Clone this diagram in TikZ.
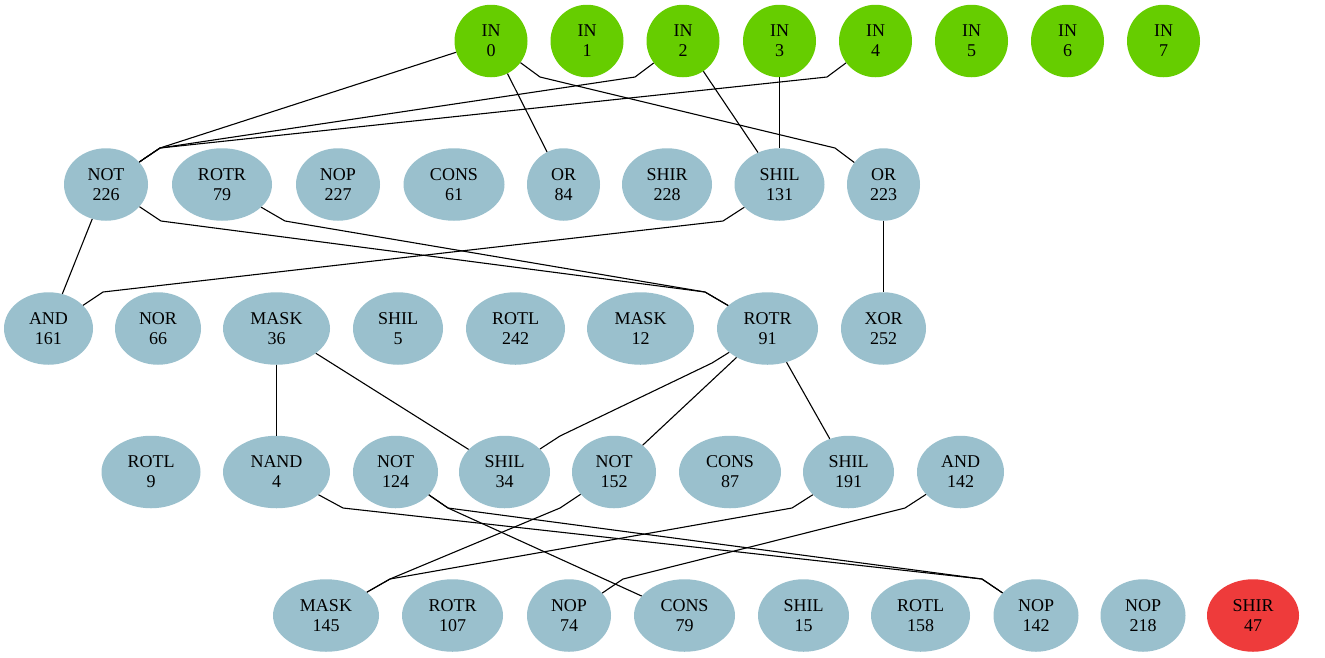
\documentclass[tikz,border=0pt]{standalone}
\usepackage{fontspec}
\setmainfont{Liberation Serif}
\usetikzlibrary{shapes.geometric}
\definecolor{infill}{HTML}{66CD00}
\definecolor{opfill}{HTML}{9AC0CD}
\definecolor{outfill}{HTML}{EE3B3B}
\tikzset{
  gate/.style={ellipse, draw=none, fill=opfill, minimum height=72.5pt,
    inner sep=0pt, align=center, font=\fontsize{18pt}{20pt}\selectfont},
  input/.style={gate, fill=infill, minimum width=73pt},
  output/.style={gate, fill=outfill},
  wire/.style={draw=black, line width=1.1pt, line join=round}
}
\begin{document}
\begin{tikzpicture}[x=1pt, y=-1pt]
\path[use as bounding box] (0,0) rectangle (1325,657);

% inputs
\node[input] (in0) at (491,41) {IN\\0};
\node[input] (in1) at (587,41) {IN\\1};
\node[input] (in2) at (683,41) {IN\\2};
\node[input] (in3) at (779.5,41) {IN\\3};
\node[input] (in4) at (875.5,41) {IN\\4};
\node[input] (in5) at (971.5,41) {IN\\5};
\node[input] (in6) at (1067.5,41) {IN\\6};
\node[input] (in7) at (1163.5,41) {IN\\7};

% first layer
\node[gate, minimum width=84pt]  (not226) at (106,184.5) {NOT\\226};
\node[gate, minimum width=100pt] (rotr79) at (222,184.5) {ROTR\\79};
\node[gate, minimum width=84pt]  (nop227) at (338,184.5) {NOP\\227};
\node[gate, minimum width=101pt] (cons61) at (454,184.5) {CONS\\61};
\node[gate, minimum width=73pt]  (or84)   at (563.5,184.5) {OR\\84};
\node[gate, minimum width=90pt]  (shir228) at (667,184.5) {SHIR\\228};
\node[gate, minimum width=90pt]  (shil131) at (779.5,184.5) {SHIL\\131};
\node[gate, minimum width=73pt]  (or223)  at (883.5,184.5) {OR\\223};

% second layer
\node[gate, minimum width=89pt]  (and161) at (48.5,328.5) {AND\\161};
\node[gate, minimum width=86pt]  (nor66)  at (158,328.5) {NOR\\66};
\node[gate, minimum width=107pt] (mask36) at (276.5,328.5) {MASK\\36};
\node[gate, minimum width=90pt]  (shil5)  at (398,328.5) {SHIL\\5};
\node[gate, minimum width=99pt]  (rotl242) at (515.5,328.5) {ROTL\\242};
\node[gate, minimum width=107pt] (mask12) at (640.5,328.5) {MASK\\12};
\node[gate, minimum width=101pt] (rotr91) at (767.5,328.5) {ROTR\\91};
\node[gate, minimum width=85pt]  (xor252) at (883.5,328.5) {XOR\\252};

% third layer
\node[gate, minimum width=99pt]  (rotl9)  at (151,472) {ROTL\\9};
\node[gate, minimum width=107pt] (nand4)  at (276.5,472) {NAND\\4};
\node[gate, minimum width=85pt]  (not124) at (395.5,472) {NOT\\124};
\node[gate, minimum width=91pt]  (shil34) at (504.5,472) {SHIL\\34};
\node[gate, minimum width=84pt]  (not152) at (614,472) {NOT\\152};
\node[gate, minimum width=102pt] (cons87) at (730,472) {CONS\\87};
\node[gate, minimum width=91pt]  (shil191) at (848.5,472) {SHIL\\191};
\node[gate, minimum width=87pt]  (and142) at (960.5,472) {AND\\142};

% fourth layer
\node[gate, minimum width=106pt] (mask145) at (326,615.5) {MASK\\145};
\node[gate, minimum width=101pt] (rotr107) at (452.5,615.5) {ROTR\\107};
\node[gate, minimum width=84pt]  (nop74)  at (569,615.5) {NOP\\74};
\node[gate, minimum width=101pt] (cons79) at (684.5,615.5) {CONS\\79};
\node[gate, minimum width=91pt]  (shil15) at (803.5,615.5) {SHIL\\15};
\node[gate, minimum width=99pt]  (rotl158) at (920.5,615.5) {ROTL\\158};
\node[gate, minimum width=85pt]  (nop142) at (1036,615.5) {NOP\\142};
\node[gate, minimum width=85pt]  (nop218) at (1143,615.5) {NOP\\218};
\node[output, minimum width=92pt] (shir47) at (1253,615.5) {SHIR\\47};

% wires: inputs to first layer
\draw[wire] (in0) -- (160,148) -- (not226);
\draw[wire] (in2) -- (635,77) -- (160,148) -- (not226);
\draw[wire] (in4) -- (827,77) -- (160,148) -- (not226);
\draw[wire] (in0) -- (or84);
\draw[wire] (in0) -- (540,77) -- (835,148) -- (or223);
\draw[wire] (in2) -- (shil131);
\draw[wire] (in3) -- (shil131);

% first to second layer
\draw[wire] (not226) -- (and161);
\draw[wire] (not226) -- (161,221) -- (705,292) -- (rotr91);
\draw[wire] (rotr79) -- (285,221) -- (705,292) -- (rotr91);
\draw[wire] (shil131) -- (723,221) -- (103,292) -- (and161);
\draw[wire] (or223) -- (xor252);

% second to third layer
\draw[wire] (mask36) -- (nand4);
\draw[wire] (mask36) -- (shil34);
\draw[wire] (rotr91) -- (712,363) -- (560,436) -- (shil34);
\draw[wire] (rotr91) -- (not152);
\draw[wire] (rotr91) -- (shil191);

% third to fourth layer
\draw[wire] (nand4) -- (343,508) -- (982,579) -- (nop142);
\draw[wire] (not124) -- (448,508) -- (982,579) -- (nop142);
\draw[wire] (not124) -- (448,508) -- (cons79);
\draw[wire] (not152) -- (560,508) -- (390,579) -- (mask145);
\draw[wire] (shil191) -- (792,508) -- (390,579) -- (mask145);
\draw[wire] (and142) -- (905,508) -- (623,579) -- (nop74);
\end{tikzpicture}
\end{document}
